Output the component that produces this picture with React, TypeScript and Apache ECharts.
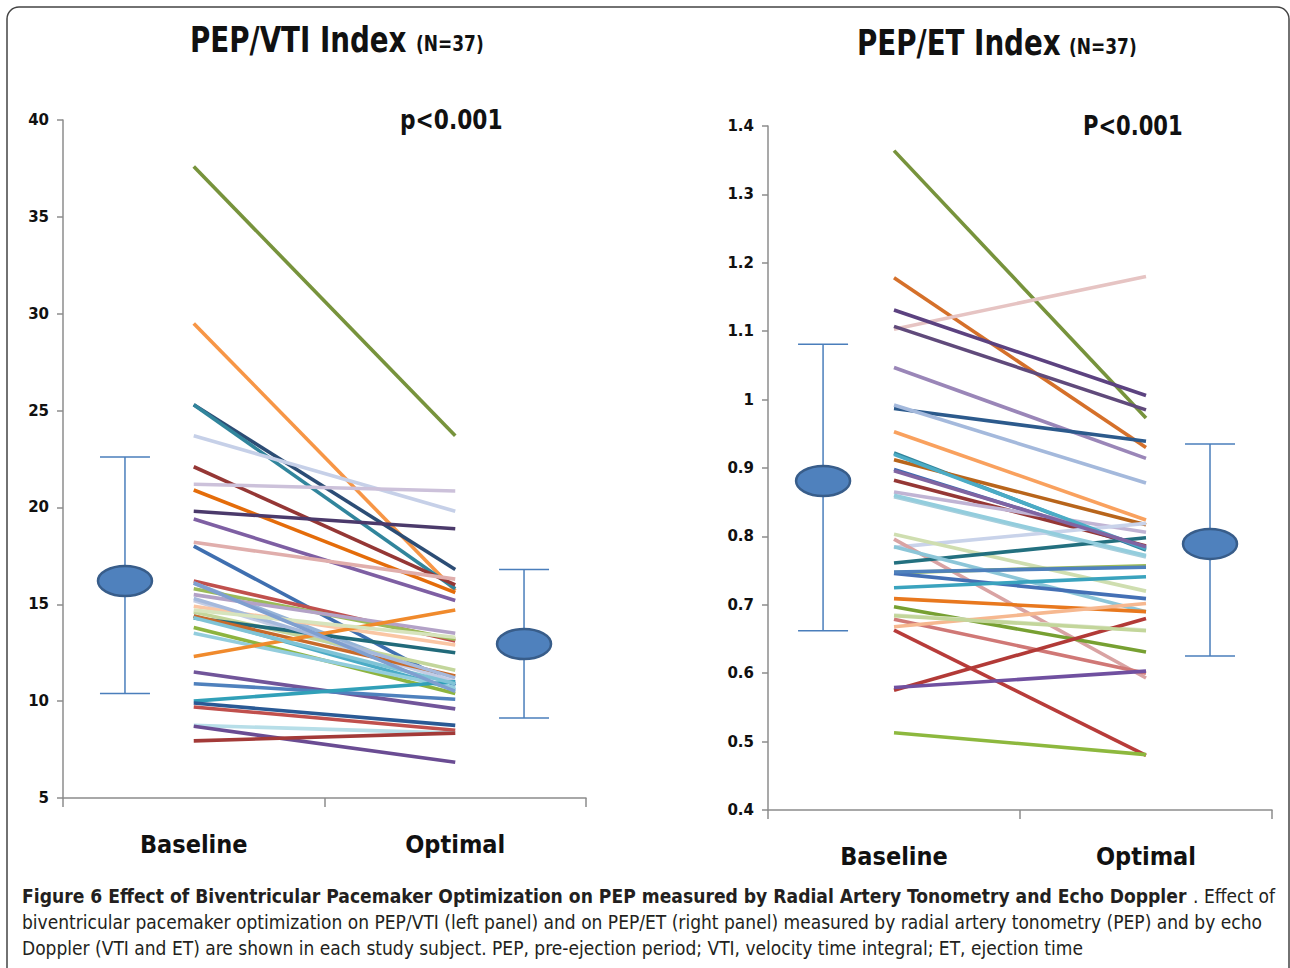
import React, { useEffect, useRef } from "react";
import * as echarts from "echarts";

const categories = ["Baseline", "Optimal"];

// PEP/VTI index (left panel) — one pair per subject
const vtiBaseline = [37.6, 29.5, 25.3, 25.3, 23.7, 22.1, 21.2, 20.9, 19.8, 19.4, 18.2, 18.0, 16.2, 16.1, 15.8, 15.5, 15.2, 14.9, 14.6, 14.4, 14.3, 14.4, 13.8, 13.5, 12.3, 11.5, 10.9, 10.0, 9.9, 9.7, 8.75, 8.7, 7.95, 15.3, 14.3, 14.7, 16.1];
const vtiOptimal = [23.7, 15.7, 16.8, 15.8, 19.8, 16.0, 20.85, 15.6, 18.9, 15.2, 16.3, 10.8, 13.1, 10.9, 13.2, 13.5, 11.0, 12.9, 11.6, 10.6, 12.5, 11.3, 10.4, 10.7, 14.7, 9.6, 10.1, 11.0, 8.75, 8.5, 8.35, 6.85, 8.35, 11.2, 10.9, 13.3, 10.5];
// mean and error bar [x position, low, mean, high]
const vtiSummary = [
  [0.474, 10.4, 16.2, 22.6],
  [3.526, 9.13, 12.95, 16.8],
];

// PEP/ET index (right panel)
const etBaseline = [1.364, 1.178, 1.103, 1.131, 1.107, 1.047, 0.987, 0.992, 0.953, 0.922, 0.912, 0.898, 0.882, 0.865, 0.858, 0.784, 0.803, 0.796, 0.761, 0.747, 0.785, 0.746, 0.725, 0.709, 0.697, 0.685, 0.679, 0.668, 0.663, 0.575, 0.579, 0.513, 0.920, 0.896, 0.860, 0.748, 0.684];
const etOptimal = [0.973, 0.930, 1.180, 1.006, 0.985, 0.914, 0.939, 0.878, 0.824, 0.780, 0.817, 0.783, 0.786, 0.806, 0.770, 0.819, 0.720, 0.593, 0.798, 0.757, 0.690, 0.709, 0.741, 0.690, 0.631, 0.663, 0.600, 0.702, 0.480, 0.680, 0.603, 0.481, 0.782, 0.785, 0.772, 0.755, 0.662];
const etSummary = [
  [0.437, 0.662, 0.881, 1.081],
  [3.508, 0.625, 0.789, 0.935],
];

const vtiColors = ["#77933C", "#F79646", "#2C4D75", "#31859C", "#C6D0E8", "#953735", "#CCC1DA", "#E46C0A", "#4B3A6B", "#7E5FA3", "#E0AEAC", "#3F6FB0", "#C0504D", "#95B3D7", "#9BBB59", "#B3A2C7", "#C3CCE4", "#FAC6A4", "#C3D69B", "#4BACC6", "#216A7A", "#C86A2A", "#8DB43F", "#93CDDD", "#F08A2C", "#71559A", "#4F81BD", "#31A0B8", "#2A5A95", "#C0504D", "#B7DEE8", "#6A4C93", "#A33A38", "#A5B9DC", "#7FC3D6", "#D7E4BD", "#7F9FD0"];
const etColors = ["#77933C", "#D5702A", "#E6C4C3", "#5C4280", "#604A7B", "#9A86B8", "#2C5A8C", "#A4B9DC", "#F9A15E", "#31859C", "#B8651B", "#3D6AB0", "#953735", "#C0B4D4", "#A6CFDD", "#C9D3EA", "#CFDEB0", "#D9A3A3", "#23707F", "#9BBB59", "#8CC6D8", "#4470B5", "#3AA3BE", "#E8781E", "#77A032", "#DDE6CC", "#D07876", "#F6B890", "#B83C3A", "#B23A37", "#7050A0", "#8DB83E", "#4BACC6", "#8064A2", "#93CDDD", "#4F81BD", "#C3D69B"];

const NARROW = "'Liberation Sans Narrow', 'DejaVu Sans Condensed', sans-serif";
const AXIS_COLOR = "#8c8c8c";

function errorBarRender(params: any, api: any) {
  const x = api.value(0);
  const lo = api.coord([x, api.value(1)]);
  const mid = api.coord([x, api.value(2)]);
  const hi = api.coord([x, api.value(3)]);
  const cap = 25;
  const rx = 27;
  const ry = 15;
  const cx = mid[0];
  const cy = mid[1];
  const barStyle = { stroke: "#4A7EBB", lineWidth: 1.5 };
  const ell = `M${cx - rx} ${cy} A${rx} ${ry} 0 1 0 ${cx + rx} ${cy} A${rx} ${ry} 0 1 0 ${cx - rx} ${cy} Z`;
  return {
    type: "group",
    children: [
      { type: "line", shape: { x1: lo[0], y1: lo[1], x2: hi[0], y2: hi[1] }, style: barStyle },
      { type: "line", shape: { x1: hi[0] - cap, y1: hi[1], x2: hi[0] + cap, y2: hi[1] }, style: barStyle },
      { type: "line", shape: { x1: lo[0] - cap, y1: lo[1], x2: lo[0] + cap, y2: lo[1] }, style: barStyle },
      { type: "path", shape: { pathData: ell }, style: { fill: "#4F81BD", stroke: "#385D8A", lineWidth: 2.5 } },
    ],
  };
}

function pairSeries(b: number[], o: number[], colors: string[], axisIdx: number) {
  return b.map((v, i) => ({
    type: "line",
    xAxisIndex: axisIdx * 2,
    yAxisIndex: axisIdx,
    data: [v, o[i]],
    symbol: "none",
    silent: true,
    z: 2,
    lineStyle: { width: 3.6, color: colors[i] },
  }));
}

const catAxis = (gridIndex: number) => ({
  type: "category",
  gridIndex,
  data: categories,
  boundaryGap: true,
  axisLine: { lineStyle: { color: AXIS_COLOR, width: 1.5 } },
  axisTick: { show: true, length: 9, lineStyle: { color: AXIS_COLOR, width: 1.5 } },
  axisLabel: { fontSize: 25, fontWeight: "bold", color: "#111", margin: 34, fontFamily: NARROW },
});

const hiddenAxis = (gridIndex: number) => ({ type: "value", gridIndex, min: 0, max: 4, show: false });

const valAxis = (gridIndex: number, min: number, max: number, interval: number) => ({
  type: "value",
  gridIndex,
  min,
  max,
  interval,
  splitLine: { show: false },
  axisLine: { show: true, lineStyle: { color: AXIS_COLOR, width: 1.5 } },
  axisTick: { show: true, length: 6, lineStyle: { color: AXIS_COLOR, width: 1.5 } },
  axisLabel: {
    fontSize: 15,
    fontWeight: "bold",
    color: "#111",
    margin: 14,
    fontFamily: "'DejaVu Sans', sans-serif",
    formatter: (v: number) => String(+v.toFixed(1)),
  },
});

const label = (text: string, x: number, y: number, font: string, scaleX: number) => ({
  type: "text",
  x,
  y,
  scaleX,
  style: { text, font, fill: "#111", verticalAlign: "middle" },
});

export default function App() {
  const ref = useRef<HTMLDivElement>(null);
  useEffect(() => {
    if (!ref.current) return;
    const chart = echarts.init(ref.current, null, { renderer: "svg" });
    const option: any = {
      animation: false,
      backgroundColor: "#ffffff",
      grid: [
        { left: 63, top: 120, width: 523, height: 678 },
        { left: 768, top: 126, width: 504, height: 684 },
      ],
      xAxis: [catAxis(0), hiddenAxis(0), catAxis(1), hiddenAxis(1)],
      yAxis: [valAxis(0, 5, 40, 5), valAxis(1, 0.4, 1.4, 0.1)],
      series: [
        ...pairSeries(vtiBaseline, vtiOptimal, vtiColors, 0),
        ...pairSeries(etBaseline, etOptimal, etColors, 1),
        {
          type: "custom",
          xAxisIndex: 1,
          yAxisIndex: 0,
          data: vtiSummary,
          encode: { x: 0, y: [1, 2, 3] },
          renderItem: errorBarRender,
          clip: false,
          z: 3,
        },
        {
          type: "custom",
          xAxisIndex: 3,
          yAxisIndex: 1,
          data: etSummary,
          encode: { x: 0, y: [1, 2, 3] },
          renderItem: errorBarRender,
          clip: false,
          z: 3,
        },
      ],
      graphic: [
        {
          type: "rect",
          shape: { x: 7, y: 7, width: 1282, height: 990, r: [12, 12, 0, 0] },
          style: { fill: "none", stroke: "#444", lineWidth: 1.5 },
          silent: true,
        },
        label("PEP/VTI Index", 190, 40, `bold 35px ${NARROW}`, 0.88),
        label("(N=37)", 416, 44, `bold 21px ${NARROW}`, 0.9),
        label("PEP/ET Index", 857, 43, `bold 35px ${NARROW}`, 0.88),
        label("(N=37)", 1069, 47, `bold 21px ${NARROW}`, 0.9),
        label("p<0.001", 400, 120, `bold 26px ${NARROW}`, 0.93),
        label("P<0.001", 1083, 126, `bold 26px ${NARROW}`, 0.9),
        {
          type: "text",
          x: 22,
          y: 896,
          scaleX: 1.006,
          style: {
            text: "Figure 6 Effect of Biventricular Pacemaker Optimization on PEP measured by Radial Artery Tonometry and Echo Doppler",
            font: `bold 19px ${NARROW}`,
            fill: "#231F20",
            verticalAlign: "middle",
          },
        },
        {
          type: "text",
          x: 1275,
          y: 896,
          style: { text: ". Effect of", font: `19px ${NARROW}`, fill: "#231F20", verticalAlign: "middle", align: "right" },
        },
        {
          type: "text",
          x: 22,
          y: 922,
          style: {
            text: "biventricular pacemaker optimization on PEP/VTI (left panel) and on PEP/ET (right panel) measured by radial artery tonometry (PEP) and by echo",
            font: `19px ${NARROW}`,
            fill: "#231F20",
            verticalAlign: "middle",
          },
        },
        {
          type: "text",
          x: 22,
          y: 948,
          style: {
            text: "Doppler (VTI and ET) are shown in each study subject. PEP, pre-ejection period; VTI, velocity time integral; ET, ejection time",
            font: `19px ${NARROW}`,
            fill: "#231F20",
            verticalAlign: "middle",
          },
        },
      ],
    };
    chart.setOption(option);
    return () => chart.dispose();
  }, []);
  return (
    <div
      ref={ref}
      style={{ position: "fixed", left: 0, top: 0, width: 1290, height: 968, background: "#fff" }}
    />
  );
}
